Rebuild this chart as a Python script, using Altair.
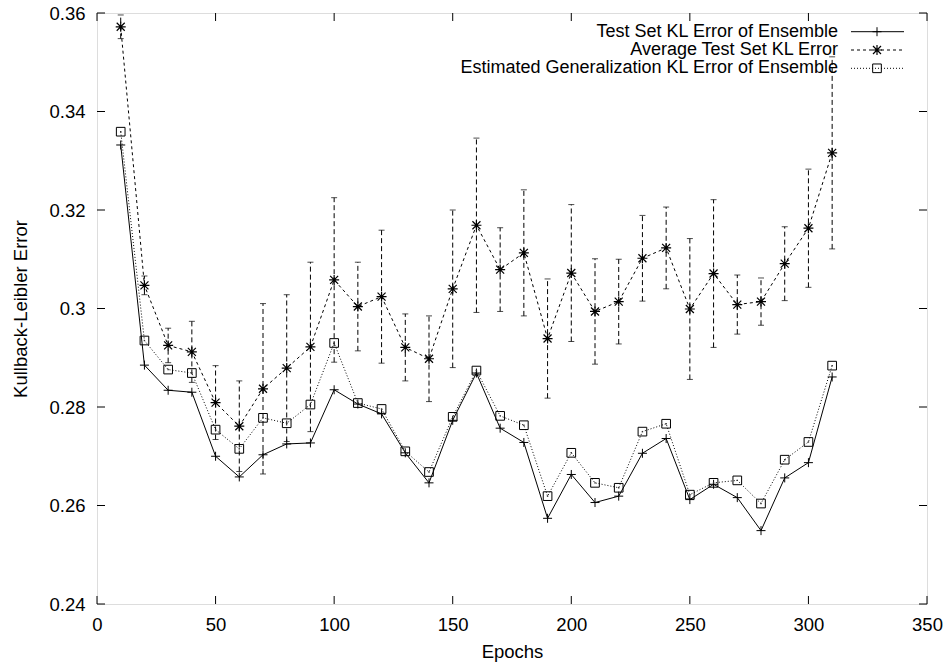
import altair as alt
import pandas as pd

# Training epochs at which the ensemble was evaluated
epochs = [10, 20, 30, 40, 50, 60, 70, 80, 90, 100, 110, 120, 130, 140, 150, 160,
          170, 180, 190, 200, 210, 220, 230, 240, 250, 260, 270, 280, 290, 300, 310]

# Test set KL error of the ensemble
ensemble_kl = [0.3332, 0.2885, 0.2834, 0.2830, 0.2700, 0.2658, 0.2703, 0.2725,
               0.2727, 0.2835, 0.2806, 0.2786, 0.2707, 0.2646, 0.2773, 0.2869,
               0.2757, 0.2728, 0.2574, 0.2663, 0.2606, 0.2619, 0.2706, 0.2736,
               0.2612, 0.2643, 0.2616, 0.2549, 0.2656, 0.2687, 0.2861]

# Average test set KL error of the members, with its spread
average_kl = [0.3572, 0.3047, 0.2925, 0.2912, 0.2809, 0.2761, 0.2837, 0.2879,
              0.2922, 0.3058, 0.3004, 0.3024, 0.2921, 0.2898, 0.3040, 0.3169,
              0.3079, 0.3113, 0.2939, 0.3072, 0.2994, 0.3014, 0.3102, 0.3123,
              0.2999, 0.3071, 0.3008, 0.3014, 0.3091, 0.3163, 0.3316]
average_kl_sd = [0.0024, 0.0019, 0.0035, 0.0062, 0.0075, 0.0092, 0.0173, 0.0149,
                 0.0172, 0.0167, 0.0090, 0.0135, 0.0068, 0.0087, 0.0160, 0.0177,
                 0.0085, 0.0128, 0.0121, 0.0139, 0.0107, 0.0086, 0.0087, 0.0083,
                 0.0143, 0.0150, 0.0060, 0.0048, 0.0075, 0.0120, 0.0195]

# Estimated generalization KL error of the ensemble
estimated_kl = [0.3359, 0.2935, 0.2876, 0.2869, 0.2754, 0.2715, 0.2778, 0.2767,
                0.2805, 0.2930, 0.2808, 0.2796, 0.2710, 0.2668, 0.2780, 0.2874,
                0.2782, 0.2763, 0.2619, 0.2707, 0.2646, 0.2636, 0.2750, 0.2766,
                0.2622, 0.2646, 0.2651, 0.2604, 0.2693, 0.2729, 0.2884]

series_names = ["Test Set KL Error of Ensemble",
                "Average Test Set KL Error",
                "Estimated Generalization KL Error of Ensemble"]

x_tick_values = [0, 50, 100, 150, 200, 250, 300, 350]
y_tick_values = [0.24, 0.26, 0.28, 0.30, 0.32, 0.34, 0.36]

W, H = 830, 591
FONT = "Liberation Sans"
FS = 18.5
KEY_FS = 18
TICK = 8

PLUS = "M-1,0L1,0M0,-1L0,1"
STAR = "M-1,0L1,0M0,-1L0,1M-0.8,-0.8L0.8,0.8M-0.8,0.8L0.8,-0.8"

df = pd.DataFrame({
    "epoch": epochs,
    "ensemble": ensemble_kl,
    "average": average_kl,
    "sd": average_kl_sd,
    "estimated": estimated_kl,
})
df["lo"] = df["average"] - df["sd"]
df["hi"] = df["average"] + df["sd"]

x_scale = alt.Scale(domain=[0, 350], nice=False, zero=False)
y_scale = alt.Scale(domain=[0.24, 0.36], nice=False, zero=False)

x_axis = alt.Axis(values=x_tick_values, title="Epochs", ticks=False, tickSize=0,
                  domain=False, grid=False, labelPadding=11, labelFont=FONT,
                  labelFontSize=FS, labelColor="black", titleFont=FONT,
                  titleFontSize=FS, titleFontWeight="normal", titleColor="black",
                  titleX=W / 2, titleY=47, titleBaseline="middle",
                  titleAlign="center", labelFlush=False)
y_axis = alt.Axis(values=y_tick_values, title="Kullback-Leibler Error", ticks=False,
                  tickSize=0, domain=False, grid=False, labelPadding=12,
                  labelFont=FONT, labelFontSize=FS, labelColor="black",
                  labelExpr="format(datum.value, '~g')", titleFont=FONT,
                  titleFontSize=FS, titleFontWeight="normal", titleColor="black",
                  titleX=-77, titleY=H / 2, titleAngle=-90, titleBaseline="middle",
                  titleAlign="center", labelFlush=False)


def X(field):
    return alt.X(field, type="quantitative", scale=x_scale, axis=x_axis)


def Y(field):
    return alt.Y(field, type="quantitative", scale=y_scale, axis=y_axis)


base = alt.Chart(df)

err_bars = base.mark_rule(color="black", strokeWidth=1, strokeDash=[5, 3]).encode(
    x=X("epoch"), y=Y("lo"), y2="hi")
cap_lo = base.mark_tick(color="black", orient="horizontal", size=6, thickness=1).encode(
    x=X("epoch"), y=Y("lo"))
cap_hi = base.mark_tick(color="black", orient="horizontal", size=6, thickness=1).encode(
    x=X("epoch"), y=Y("hi"))

avg_line = base.mark_line(color="black", strokeWidth=1, strokeDash=[3, 3]).encode(
    x=X("epoch"), y=Y("average"))
est_line = base.mark_line(color="black", strokeWidth=1, strokeDash=[1, 2]).encode(
    x=X("epoch"), y=Y("estimated"))
ens_line = base.mark_line(color="black", strokeWidth=1).encode(
    x=X("epoch"), y=Y("ensemble"))

ens_pts = base.mark_point(shape=PLUS, size=81, filled=False, color="black",
                          strokeWidth=1, opacity=1).encode(x=X("epoch"), y=Y("ensemble"))
avg_pts = base.mark_point(shape=STAR, size=100, filled=False, color="black",
                          strokeWidth=1.2, opacity=1).encode(x=X("epoch"), y=Y("average"))
est_pts = base.mark_point(shape="square", size=75, filled=False, color="black",
                          strokeWidth=1, opacity=1).encode(x=X("epoch"), y=Y("estimated"))
est_dots = base.mark_point(shape="square", size=2, filled=True, color="#333333",
                           opacity=1).encode(x=X("epoch"), y=Y("estimated"))

# Inward tick marks on all four sides of the frame
xt = alt.Chart(pd.DataFrame({"v": x_tick_values}))
yt = alt.Chart(pd.DataFrame({"v": y_tick_values}))
tick_style = dict(color="black", strokeWidth=1)
ticks = [
    xt.mark_rule(**tick_style).encode(x=X("v"), y=alt.value(H), y2=alt.value(H - TICK)),
    xt.mark_rule(**tick_style).encode(x=X("v"), y=alt.value(0), y2=alt.value(TICK)),
    yt.mark_rule(**tick_style).encode(y=Y("v"), x=alt.value(0), x2=alt.value(TICK)),
    yt.mark_rule(**tick_style).encode(y=Y("v"), x=alt.value(W), x2=alt.value(W - TICK)),
]

# Key in the upper right: label, line sample, marker
key_rows = [18.7, 37.0, 55.3]
key_text_x = 741
key_line = (754, 807)
key_mark_x = 780
key_dash = [None, [3, 3], [1, 2]]
key_shape = [(PLUS, 81, 1), (STAR, 100, 1.2), ("square", 75, 1)]
legend = []
for name, yrow, dash, (shape, size, sw) in zip(series_names, key_rows, key_dash, key_shape):
    kd = alt.Chart(pd.DataFrame({"label": [name]}))
    legend.append(kd.mark_text(align="right", baseline="middle", font=FONT,
                               fontSize=KEY_FS, color="black").encode(
        text="label:N", x=alt.value(key_text_x), y=alt.value(yrow)))
    rule_kw = dict(color="black", strokeWidth=1)
    if dash:
        rule_kw["strokeDash"] = dash
    legend.append(kd.mark_rule(**rule_kw).encode(
        x=alt.value(key_line[0]), x2=alt.value(key_line[1]), y=alt.value(yrow)))
    legend.append(kd.mark_point(shape=shape, size=size, filled=False, color="black",
                                strokeWidth=sw, opacity=1).encode(
        x=alt.value(key_mark_x), y=alt.value(yrow)))

chart = alt.layer(
    err_bars, cap_lo, cap_hi, avg_line, est_line, ens_line,
    ens_pts, avg_pts, est_pts, est_dots, *ticks, *legend
).properties(
    width=W, height=H,
    autosize=alt.AutoSizeParams(type="none"),
    padding={"left": 97, "top": 13, "right": 17, "bottom": 59},
).configure_view(
    stroke="black", strokeWidth=1
).configure(background="white")

chart.save("out.html", embed_options={"renderer": "svg", "actions": False})
